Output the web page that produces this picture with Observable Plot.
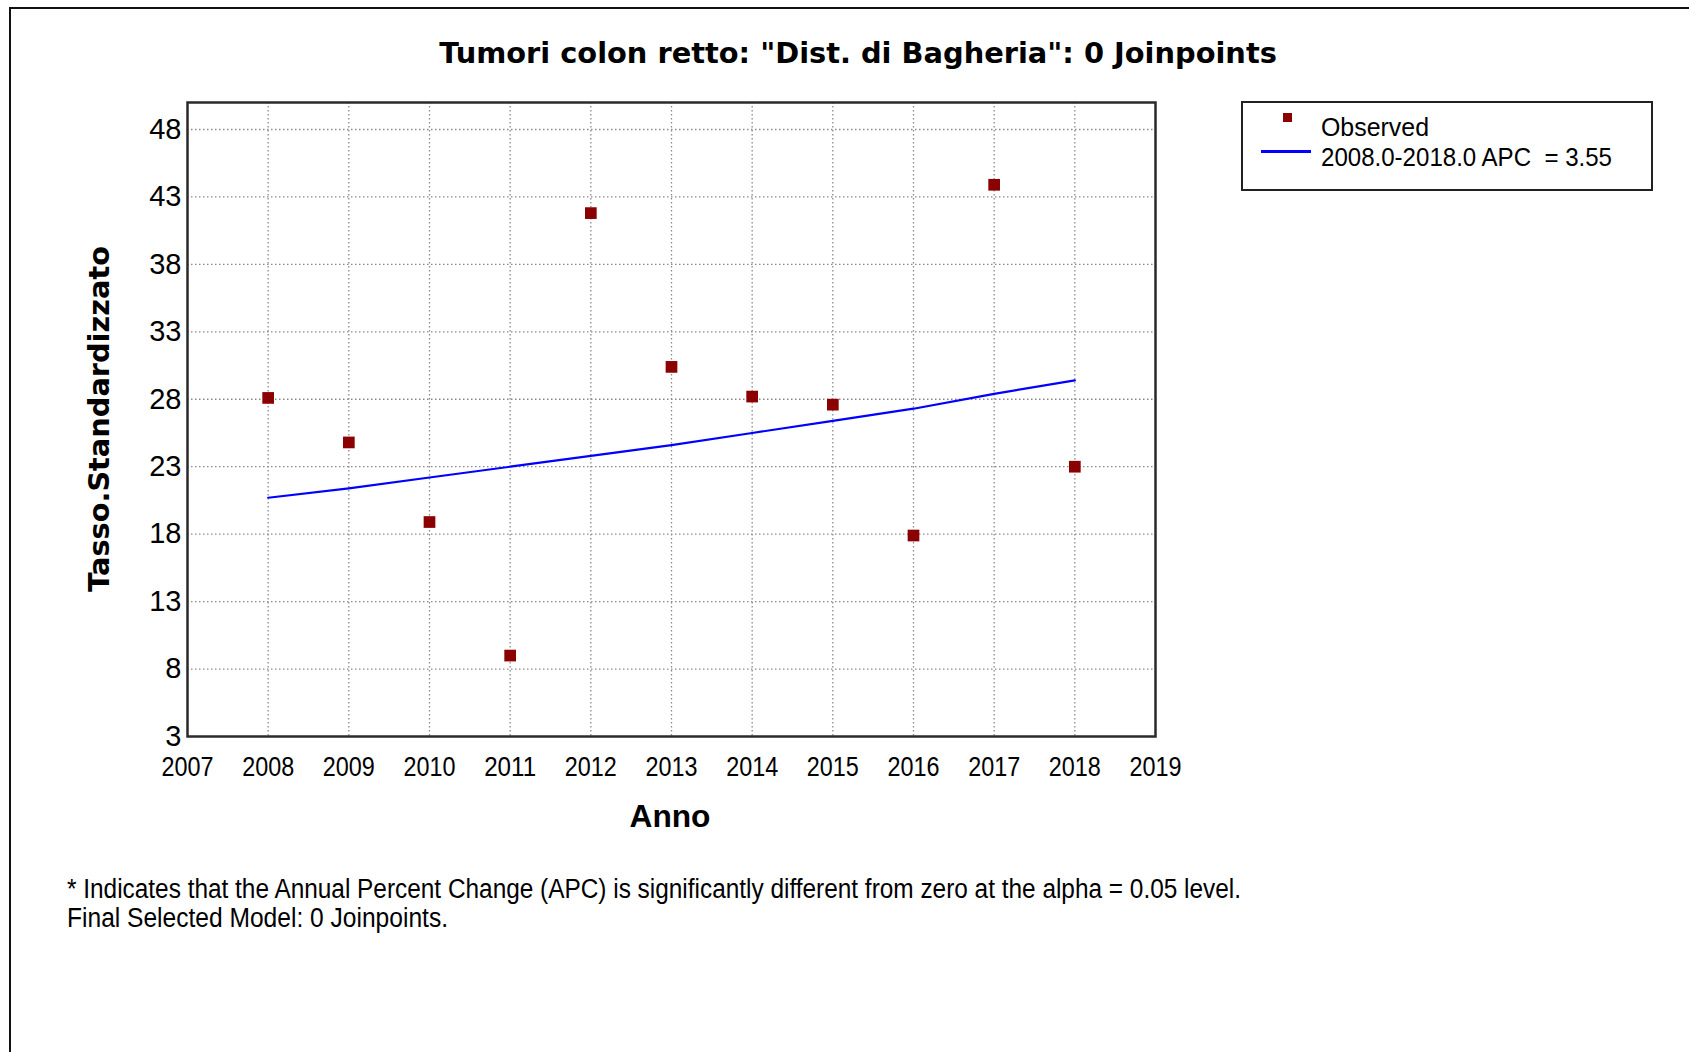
<!DOCTYPE html>
<html>
<head>
<meta charset="utf-8">
<script src="https://cdn.jsdelivr.net/npm/d3@7"></script>
<script src="https://cdn.jsdelivr.net/npm/@observablehq/plot@0.6"></script>
<style>
  html, body { margin: 0; padding: 0; background: #fff; }
  #page { position: relative; width: 1689px; height: 1052px; overflow: hidden; }
  #page svg { position: absolute; left: 0; top: 0; }
  .t { position: absolute; white-space: pre; line-height: 1; color: #000; }
  .c { transform: translate(-50%, -50%); }
  .l { transform-origin: 0 50%; }
  .narrow { font-family: "Liberation Sans", Arial, sans-serif; }
  .boldv { font-family: "DejaVu Sans", Verdana, sans-serif; font-weight: bold; }
  #outer { position: absolute; left: 9px; top: 7px; width: 2000px; height: 2000px;
           border-left: 2px solid #111; border-top: 2px solid #111; }
  #legend { position: absolute; left: 1241px; top: 101px; width: 408px; height: 86px;
            border: 2px solid #222; }
  #lgMarker { position: absolute; left: 1283px; top: 113px; width: 9px; height: 9px; background: #8b0000; }
  #lgLine { position: absolute; left: 1261px; top: 150px; width: 50px; height: 3px; background: #0000ff; }
</style>
</head>
<body>
<div id="page">
  <div id="outer"></div>
</div>
<script>
// ---- data ----
const years = [2008, 2009, 2010, 2011, 2012, 2013, 2014, 2015, 2016, 2017, 2018];
const observed = [28.1, 24.8, 18.9, 9.0, 41.8, 30.4, 28.2, 27.6, 17.9, 43.9, 23.0];
const fitted = [20.7, 21.4, 22.2, 23.0, 23.8, 24.6, 25.5, 26.4, 27.3, 28.4, 29.4];
const xTicks = [2007, 2008, 2009, 2010, 2011, 2012, 2013, 2014, 2015, 2016, 2017, 2018, 2019];
const yTicks = [3, 8, 13, 18, 23, 28, 33, 38, 43, 48];
const gridYears = [2008, 2009, 2010, 2011, 2012, 2013, 2014, 2015, 2016, 2017, 2018];
const gridValues = [8, 13, 18, 23, 28, 33, 38, 43, 48];

const titleText = 'Tumori colon retto: "Dist. di Bagheria": 0 Joinpoints';
const xLabel = "Anno";
const yLabel = "Tasso.Standardizzato";
const legendObserved = "Observed";
const legendFit = "2008.0-2018.0 APC  = 3.55";
const footer1 = "* Indicates that the Annual Percent Change (APC) is significantly different from zero at the alpha = 0.05 level.";
const footer2 = "Final Selected Model: 0 Joinpoints.";

const table = years.map((year, i) => ({year, obs: observed[i], fit: fitted[i]}));

const chart = Plot.plot({
  width: 1689,
  height: 1052,
  marginLeft: 187,
  marginTop: 102,
  marginRight: 534,
  marginBottom: 316,
  x: {domain: [2007, 2019]},
  y: {domain: [3, 50]},
  style: {fontFamily: '"Liberation Sans", Arial, sans-serif', fontSize: "27px", color: "#000", background: "transparent"},
  marks: [
    Plot.gridX(gridYears, {stroke: "#8a8a8a", strokeOpacity: 1, strokeWidth: 1.3, strokeDasharray: "1.5,2.5"}),
    Plot.gridY(gridValues, {stroke: "#8a8a8a", strokeOpacity: 1, strokeWidth: 1.3, strokeDasharray: "1.5,2.5"}),
    Plot.axisX(xTicks, {tickSize: 0, tickPadding: 20, label: null, tickFormat: d => String(d), fill: "#000", fontSize: 28}),
    Plot.axisY(yTicks, {tickSize: 0, tickPadding: 6, label: null, fill: "#000", fontSize: 29}),
    Plot.line(table, {x: "year", y: "fit", stroke: "#0000ff", strokeWidth: 2.2}),
    Plot.dot(table, {x: "year", y: "obs", symbol: "square", fill: "#8b0000", stroke: "none", r: 6.6}),
    Plot.frame({stroke: "#2a2a2a", strokeWidth: 2.5})
  ]
});
const page = document.getElementById("page");
page.appendChild(chart);

// condense the x tick labels like the original
chart.querySelectorAll('g[aria-label="x-axis tick label"] text').forEach(t => {
  t.setAttribute("textLength", 52);
  t.setAttribute("lengthAdjust", "spacingAndGlyphs");
});

function addText(text, cls, x, y, targetW, extra) {
  const el = document.createElement("div");
  el.className = "t " + cls;
  el.textContent = text;
  el.style.left = x + "px";
  el.style.top = y + "px";
  el.style.fontSize = "20px";
  if (extra) Object.assign(el.style, extra);
  page.appendChild(el);
  const w = el.getBoundingClientRect().width;
  if (cls.includes("rot")) {
    const h = el.getBoundingClientRect().height;
    el.style.fontSize = (20 * targetW / h) + "px";
  } else {
    el.style.fontSize = (20 * targetW / w) + "px";
  }
  return el;
}

// left-anchored text with a given size, horizontally condensed to a target width
function addNarrow(text, x, y, size, targetW) {
  const el = document.createElement("div");
  el.className = "t narrow l";
  el.textContent = text;
  el.style.left = x + "px";
  el.style.top = (y - size / 2) + "px";
  el.style.fontSize = size + "px";
  page.appendChild(el);
  const w = el.getBoundingClientRect().width;
  el.style.transform = "scaleX(" + (targetW / w) + ")";
  return el;
}

// title
addText(titleText, "boldv c", 858, 53, 838);
// axis titles
addText(xLabel, "boldv c", 670, 817, 81, {fontFamily: '"Liberation Sans", Arial, sans-serif'});
addText(yLabel, "boldv c rot", 99, 419, 346, {transform: "translate(-50%, -50%) rotate(-90deg)"});

// legend
const lg = document.createElement("div"); lg.id = "legend"; page.appendChild(lg);
const lm = document.createElement("div"); lm.id = "lgMarker"; page.appendChild(lm);
const ll = document.createElement("div"); ll.id = "lgLine"; page.appendChild(ll);
addNarrow(legendObserved, 1321, 127, 26, 108);
addNarrow(legendFit, 1321, 157, 26, 291);

// footer
addNarrow(footer1, 67, 889, 27, 1174);
addNarrow(footer2, 67, 918, 27, 381);
</script>
</body>
</html>
